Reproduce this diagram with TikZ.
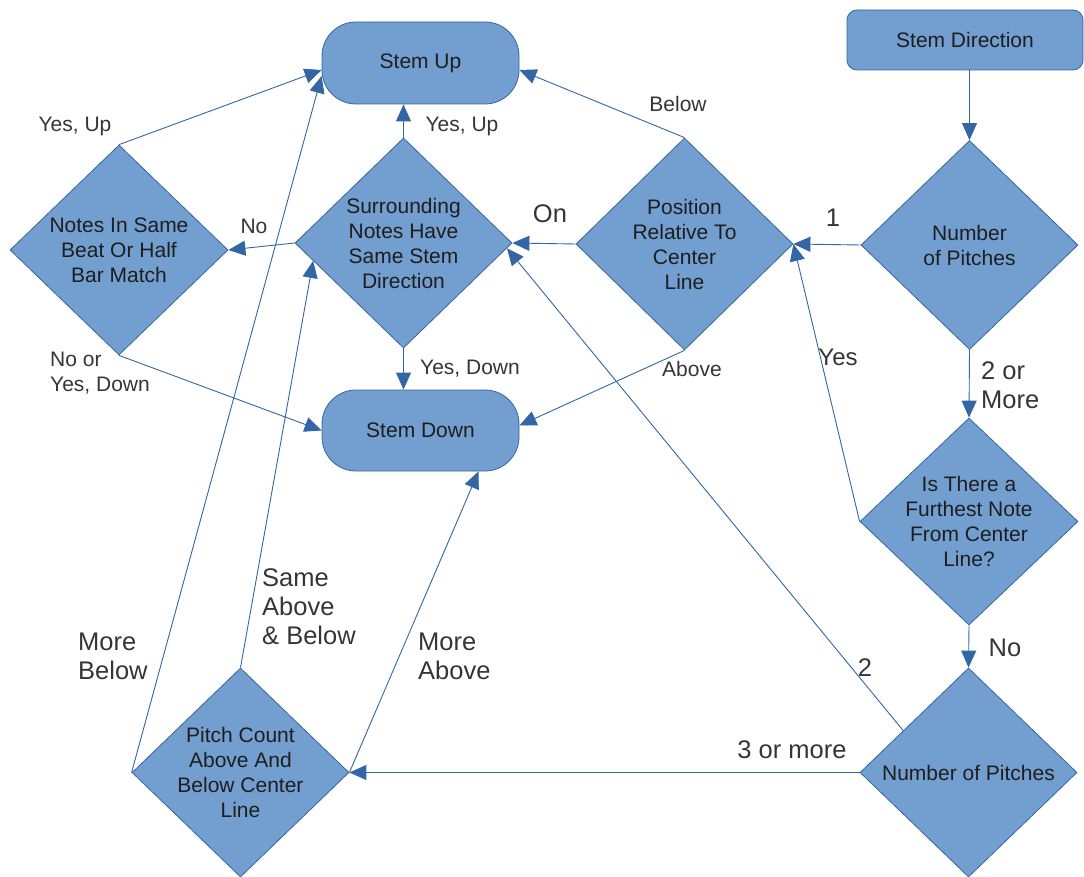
\documentclass[tikz,border=0pt]{standalone}
\usepackage{fontspec}
\setmainfont{Liberation Sans}
\usetikzlibrary{shapes.geometric,arrows.meta,calc}
\definecolor{boxfill}{HTML}{729FCF}
\definecolor{boxline}{HTML}{3465A4}
\definecolor{txt}{HTML}{1E1E1E}
\begin{document}
\begin{tikzpicture}[x=1pt,y=-1pt,
  dia/.style={diamond, draw=boxline, line width=0.8pt, fill=boxfill, minimum width=217pt, minimum height=209pt, inner sep=-40pt, align=center, text=txt, font=\fontsize{21}{25}\selectfont},
  term/.style={rectangle, rounded corners=34pt, draw=boxline, line width=0.8pt, fill=boxfill, minimum width=197pt, minimum height=82pt, text=txt, font=\fontsize{21}{25}\selectfont},
  conn/.style={draw=boxline, line width=0.9pt, -{Triangle[length=17pt,width=15pt]}},
  lab/.style={text=txt!90, font=\fontsize{21}{25}\selectfont, inner sep=0pt, align=left},
  biglab/.style={text=txt!90, font=\fontsize{25.5}{29}\selectfont, inner sep=0pt, align=left}]
\useasboundingbox (0,0) rectangle (1084,877);

% terminals
\node[term] (su) at (420.5,63) {Stem Up};
\node[term, minimum height=81pt] (sd) at (420.5,430.5) {Stem Down};
\node[term, rounded corners=10pt, minimum width=236pt, minimum height=60pt] (dir) at (965,40) {Stem Direction};

% decisions
\node[dia] (np1) at (969.5,245) {Number\\of Pitches};
\node[dia, minimum height=212pt] (pos) at (684.5,244) {Position\\Relative To\\Center\\Line};
\node[dia, minimum height=210pt] (sur) at (403.5,243) {Surrounding\\Notes Have\\Same Stem\\Direction};
\node[dia, minimum width=218pt, minimum height=210pt] (notes) at (119,250) {Notes In Same\\Beat Or Half\\Bar Match};
\node[dia, minimum width=218pt, minimum height=207pt] (fur) at (969,521.5) {Is There a\\Furthest Note\\From Center\\Line?};
\node[dia] (np2) at (968.5,772.5) {Number of Pitches};
\node[dia] (pc) at (240.5,772.5) {Pitch Count\\Above And\\Below Center\\Line};

% connectors
\draw[conn] (np1.north |- dir.south) -- (np1.north);
\draw[conn] (np1.west) -- (pos.east);
\draw[conn] (np1.south) -- (fur.north);
\draw[conn] (fur.west) -- (pos.east);
\draw[conn] (fur.south) -- (np2.north);
\draw[conn] (np2.west) -- (pc.east);
\draw[conn] ($(np2.west)!0.4!(np2.north)$) -- ($(sur.east)!0.05!(sur.south)$);
\draw[conn] (pos.west) -- (sur.east);
\draw[conn] (pos.north) -- ([yshift=-7pt]su.east);
\draw[conn] (pos.south) -- ([yshift=5pt]sd.east);
\draw[conn] (sur.north) -- (sur.north |- su.south);
\draw[conn] (sur.south) -- (sur.south |- sd.north);
\draw[conn] (sur.west) -- (notes.east);
\draw[conn] (notes.north) -- ([yshift=-7pt]su.west);
\draw[conn] (notes.south) -- (sd.west);
\draw[conn] (pc.west) -- ([yshift=-13pt]su.west);
\draw[conn] (pc.north) -- ($(sur.west)!0.17!(sur.south)$);
\draw[conn] (pc.east) -- ([xshift=58pt]sd.south);

% labels
\node[lab] (lYesUpL) at (75,126) {Yes, Up};
\node[lab] (lYesUpM) at (462,126) {Yes, Up};
\node[lab] (lBelow) at (678,104) {Below};
\node[lab] (lNo) at (254,226) {No};
\node[biglab] (lOn) at (550,214) {On};
\node[biglab] (l1) at (833,218) {1};
\node[biglab, font=\fontsize{24}{28}\selectfont] (lYes) at (838,357) {Yes};
\node[lab, anchor=west] (lNoOr) at (50,373) {No or\\Yes, Down};
\node[lab] (lYesDown) at (470,369) {Yes, Down};
\node[lab] (lAbove) at (692,369) {Above};
\node[biglab, anchor=west] (l2more) at (981,385) {2 or\\More};
\node[biglab] (lNo2) at (1005,648) {No};
\node[biglab, anchor=west] (lSame) at (262,607) {Same\\Above\\\& Below};
\node[biglab, anchor=west] (lMoreBelow) at (78,656) {More\\Below};
\node[biglab, anchor=west] (lMoreAbove) at (418,656) {More\\Above};
\node[biglab] (l2) at (865,668) {2};
\node[biglab] (l3) at (792,750) {3 or more};
\end{tikzpicture}
\end{document}
